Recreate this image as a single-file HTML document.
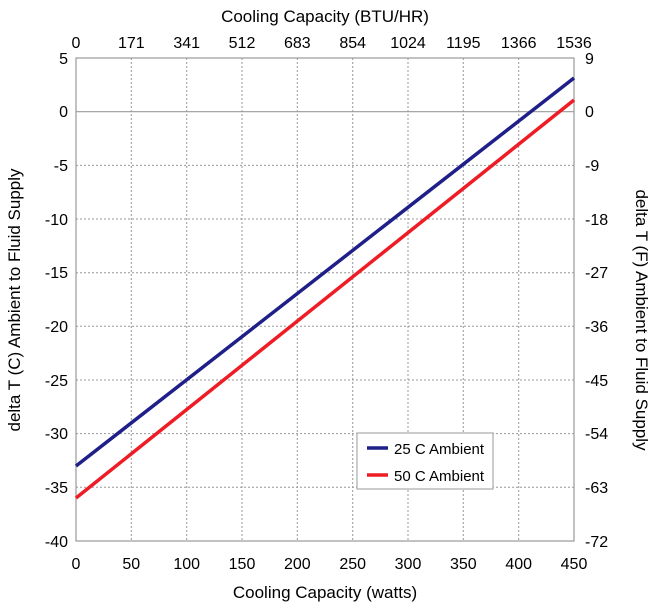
<!DOCTYPE html>
<html><head><style>body{margin:0;background:#fff}</style></head><body>
<svg width="650" height="609" xmlns="http://www.w3.org/2000/svg" font-family="Liberation Sans, DejaVu Sans, sans-serif">
<rect width="650" height="609" fill="#fff"/>
<g stroke="#999" stroke-width="1" stroke-dasharray="2,2">
<line x1="131.3" y1="58" x2="131.3" y2="541"/><line x1="186.7" y1="58" x2="186.7" y2="541"/><line x1="242" y1="58" x2="242" y2="541"/><line x1="297.3" y1="58" x2="297.3" y2="541"/><line x1="352.7" y1="58" x2="352.7" y2="541"/><line x1="408" y1="58" x2="408" y2="541"/><line x1="463.3" y1="58" x2="463.3" y2="541"/><line x1="518.7" y1="58" x2="518.7" y2="541"/>
<line x1="76" y1="165.4" x2="574" y2="165.4"/><line x1="76" y1="219" x2="574" y2="219"/><line x1="76" y1="272.7" x2="574" y2="272.7"/><line x1="76" y1="326.3" x2="574" y2="326.3"/><line x1="76" y1="380" x2="574" y2="380"/><line x1="76" y1="433.6" x2="574" y2="433.6"/><line x1="76" y1="487.3" x2="574" y2="487.3"/>
</g>
<line x1="76" y1="111.7" x2="574" y2="111.7" stroke="#999" stroke-width="1.2"/>
<rect x="76" y="58" width="498" height="483" fill="none" stroke="#999" stroke-width="1.2"/>
<line x1="76" y1="466" x2="574" y2="78" stroke="#1f1f8a" stroke-width="3.5"/>
<line x1="76" y1="498" x2="574" y2="100" stroke="#ee1c24" stroke-width="3.5"/>
<rect x="357" y="433" width="136" height="56" fill="#fff" stroke="#aaa" stroke-width="1.2"/>
<line x1="367" y1="448" x2="388" y2="448" stroke="#1f1f8a" stroke-width="3.5"/>
<text x="394" y="454" font-size="15">25 C Ambient</text>
<line x1="367" y1="475" x2="388" y2="475" stroke="#ee1c24" stroke-width="3.5"/>
<text x="394" y="481" font-size="15">50 C Ambient</text>
<g font-size="16" text-anchor="end">
<text x="68" y="64">5</text><text x="68" y="117">0</text><text x="68" y="171">-5</text><text x="68" y="225">-10</text><text x="68" y="278">-15</text><text x="68" y="332">-20</text><text x="68" y="386">-25</text><text x="68" y="439">-30</text><text x="68" y="493">-35</text><text x="68" y="547">-40</text>
</g>
<g font-size="16" text-anchor="start">
<text x="585" y="64">9</text><text x="585" y="117">0</text><text x="585" y="171">-9</text><text x="585" y="225">-18</text><text x="585" y="278">-27</text><text x="585" y="332">-36</text><text x="585" y="386">-45</text><text x="585" y="439">-54</text><text x="585" y="493">-63</text><text x="585" y="547">-72</text>
</g>
<g font-size="16" text-anchor="middle">
<text x="76" y="569">0</text><text x="131.3" y="569">50</text><text x="186.7" y="569">100</text><text x="242" y="569">150</text><text x="297.3" y="569">200</text><text x="352.7" y="569">250</text><text x="408" y="569">300</text><text x="463.3" y="569">350</text><text x="518.7" y="569">400</text><text x="574" y="569">450</text>
<text x="76" y="48">0</text><text x="131.3" y="48">171</text><text x="186.7" y="48">341</text><text x="242" y="48">512</text><text x="297.3" y="48">683</text><text x="352.7" y="48">854</text><text x="408" y="48">1024</text><text x="463.3" y="48">1195</text><text x="518.7" y="48">1366</text><text x="574" y="48">1536</text>
<text x="325" y="598" font-size="17">Cooling Capacity (watts)</text>
<text x="325" y="22" font-size="17">Cooling Capacity (BTU/HR)</text>
<text transform="translate(20,300) rotate(-90)" font-size="17">delta T (C) Ambient to Fluid Supply</text>
<text transform="translate(636,320) rotate(90)" font-size="17">delta T (F) Ambient to Fluid Supply</text>
</g>
</svg>
</body></html>
